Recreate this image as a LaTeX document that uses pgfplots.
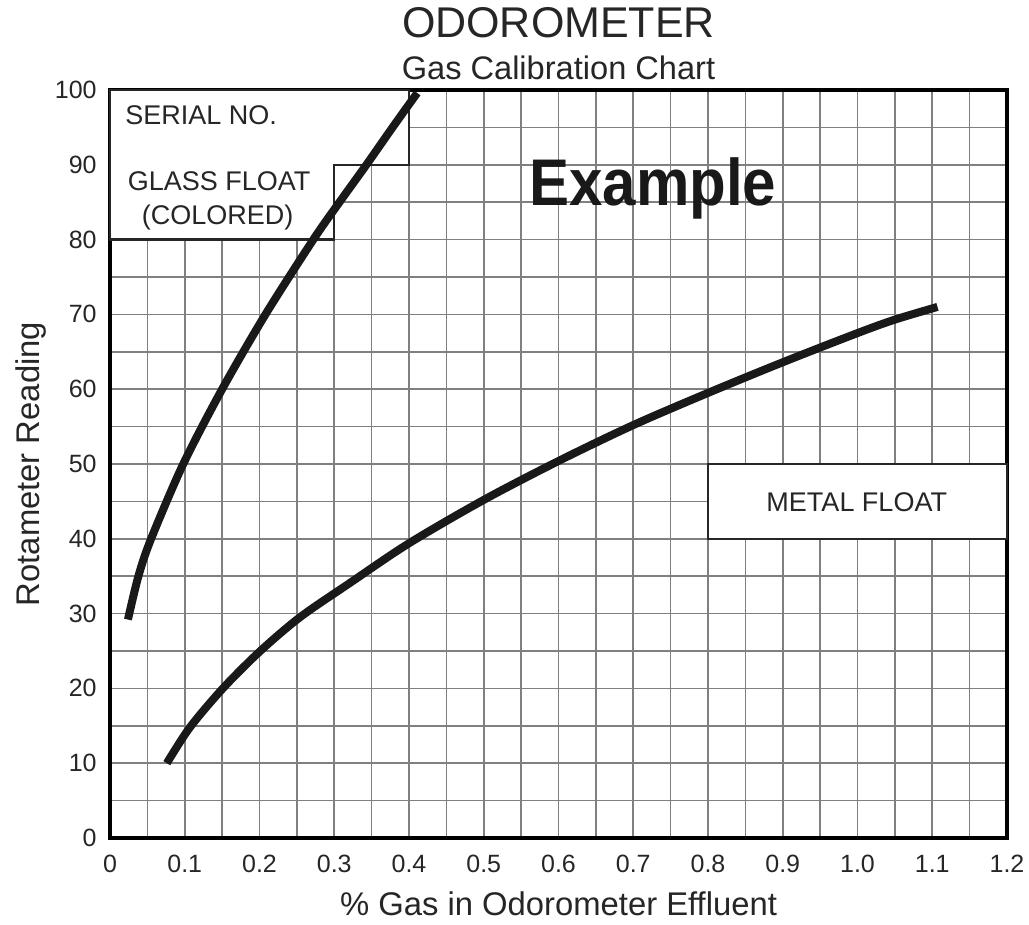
\documentclass[border=0pt]{standalone}
\usepackage{fontspec}
\setmainfont{Liberation Sans}
\usepackage{pgfplots}
\pgfplotsset{compat=1.18}
\begin{document}
\begin{tikzpicture}
\begin{axis}[
  width=448.5pt, height=374pt, scale only axis,
  xmin=0, xmax=1.2, ymin=0, ymax=100,
  xtick={0,0.1,0.2,0.3,0.4,0.5,0.6,0.7,0.8,0.9,1.0,1.1,1.2},
  xticklabels={0,0.1,0.2,0.3,0.4,0.5,0.6,0.7,0.8,0.9,1.0,1.1,1.2},
  minor xtick={0.05,0.15,0.25,0.35,0.45,0.55,0.65,0.75,0.85,0.95,1.05,1.15},
  ytick={0,10,20,30,40,50,60,70,80,90,100},
  yticklabels={0,10,20,30,40,50,60,70,80,90,100},
  minor ytick={5,15,25,35,45,55,65,75,85,95},
  grid=both,
  grid style={black!50, line width=0.8pt},
  minor grid style={black!50, line width=0.8pt},
  major tick length=0pt, minor tick length=0pt,
  axis line style={line width=1.6pt},
  /pgf/number format/assume math mode=true,
  tick label style={font=\fontsize{12.5}{14}\selectfont, text=black!85},
  xticklabel style={anchor=base, inner sep=0pt, yshift=-17.5pt},
  yticklabel style={anchor=east, inner sep=0pt, xshift=-6.5pt},
  clip=false,
]
% boxes
\filldraw[fill=white, draw=black!85, line width=1.2pt]
  (axis cs:0,80) -- (axis cs:0.3,80) -- (axis cs:0.3,90) -- (axis cs:0.4,90)
  -- (axis cs:0.4,100) -- (axis cs:0,100) -- cycle;
\filldraw[fill=white, draw=black!85, line width=1.2pt]
  (axis cs:0.8,40) rectangle (axis cs:1.2,50);
\node[anchor=base west, inner sep=0pt, text=black!85, font=\fontsize{13.5}{15}\selectfont] at (axis cs:0.02,95.45) {SERIAL NO.};
\node[anchor=base, inner sep=0pt, text=black!85, font=\fontsize{13.5}{15}\selectfont] at (axis cs:0.146,86.6) {GLASS FLOAT};
\node[anchor=base, inner sep=0pt, text=black!85, font=\fontsize{13.5}{15}\selectfont] at (axis cs:0.144,82.0) {(COLORED)};
\node[anchor=base, inner sep=0pt, text=black!85, font=\fontsize{13.5}{15}\selectfont] at (axis cs:0.999,43.7) {METAL FLOAT};
\node[anchor=base, inner sep=0pt, text=black!90, font=\fontsize{33}{36}\selectfont\bfseries] at (axis cs:0.726,84.6) {\scalebox{0.91}[1]{Example}};
% glass float
\addplot[black!90, line width=4pt, smooth] coordinates {
  (0.024,29.2) (0.038,35) (0.055,40) (0.098,50) (0.15,60) (0.208,70)
  (0.272,80) (0.307,85) (0.343,90) (0.378,95) (0.411,99.6)
};
% metal float
\addplot[black!90, line width=4pt, smooth] coordinates {
  (0.076,10) (0.107,14.8) (0.151,20) (0.2,24.9) (0.254,29.5) (0.321,34.1)
  (0.4,39.4) (0.5,45.2) (0.6,50.4) (0.7,55.2) (0.8,59.5) (0.9,63.6)
  (1.0,67.5) (1.05,69.3) (1.107,71)
};
\end{axis}
\node[anchor=base, inner sep=0pt, text=black!85, font=\fontsize{21.5}{24}\selectfont] at (224.25pt,400pt) {ODOROMETER};
\node[anchor=base, inner sep=0pt, text=black!85, font=\fontsize{16.3}{18}\selectfont] at (224.25pt,379pt) {Gas Calibration Chart};
\node[anchor=base, inner sep=0pt, text=black!85, font=\fontsize{16.4}{18}\selectfont] at (224.25pt,-39pt) {\% Gas in Odorometer Effluent};
\node[anchor=base, rotate=90, inner sep=0pt, text=black!85, font=\fontsize{16.4}{18}\selectfont] at (-35pt,187pt) {Rotameter Reading};
\pgfresetboundingbox
\path[use as bounding box] (-55pt,-43.5pt) rectangle (459.5pt,419pt);
\end{tikzpicture}
\end{document}
